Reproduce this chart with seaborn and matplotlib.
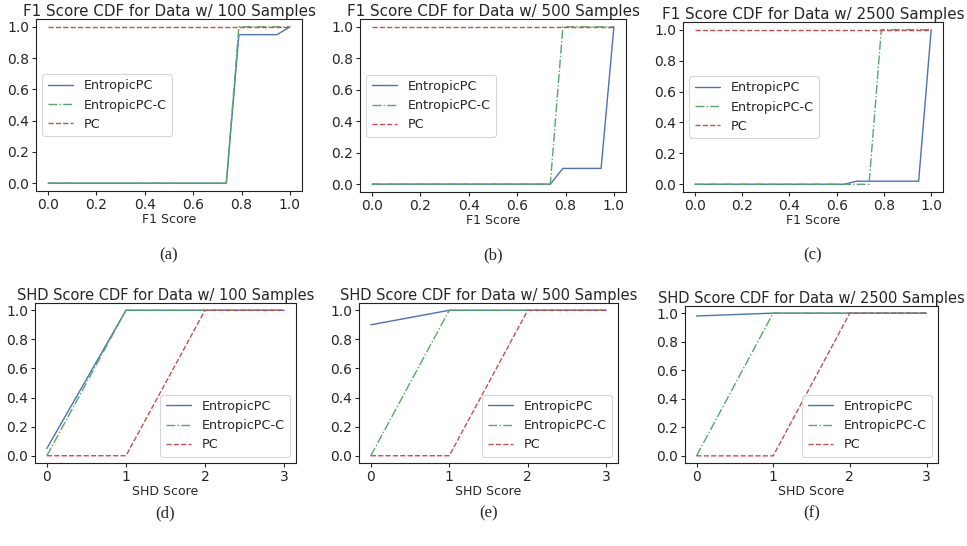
import matplotlib
matplotlib.use("Agg")
import matplotlib.pyplot as plt
import seaborn as sns

# --- data ---
labels = ["EntropicPC", "EntropicPC-C", "PC"]

f1_x = [0.0, 0.632, 0.684, 0.737, 0.789, 0.947, 1.0]
f1_100 = {
    "EntropicPC":   [0.0, 0.0, 0.0, 0.0, 0.95, 0.95, 1.0],
    "EntropicPC-C": [0.0, 0.0, 0.0, 0.0, 1.0, 1.0, 1.0],
    "PC":           [1.0, 1.0, 1.0, 1.0, 1.0, 1.0, 1.0],
}
f1_500 = {
    "EntropicPC":   [0.0, 0.0, 0.0, 0.0, 0.1, 0.1, 1.0],
    "EntropicPC-C": [0.0, 0.0, 0.0, 0.0, 1.0, 1.0, 1.0],
    "PC":           [1.0, 1.0, 1.0, 1.0, 1.0, 1.0, 1.0],
}
f1_2500 = {
    "EntropicPC":   [0.0, 0.0, 0.02, 0.02, 0.02, 0.02, 1.0],
    "EntropicPC-C": [0.0, 0.0, 0.0, 0.0, 1.0, 1.0, 1.0],
    "PC":           [1.0, 1.0, 1.0, 1.0, 1.0, 1.0, 1.0],
}

shd_x = [0, 1, 2, 3]
shd_100 = {
    "EntropicPC":   [0.05, 1.0, 1.0, 1.0],
    "EntropicPC-C": [0.0, 1.0, 1.0, 1.0],
    "PC":           [0.0, 0.0, 1.0, 1.0],
}
shd_500 = {
    "EntropicPC":   [0.9, 1.0, 1.0, 1.0],
    "EntropicPC-C": [0.0, 1.0, 1.0, 1.0],
    "PC":           [0.0, 0.0, 1.0, 1.0],
}
shd_2500 = {
    "EntropicPC":   [0.98, 1.0, 1.0, 1.0],
    "EntropicPC-C": [0.0, 1.0, 1.0, 1.0],
    "PC":           [0.0, 0.0, 1.0, 1.0],
}

sample_sizes = [100, 500, 2500]
captions = ["(a)", "(b)", "(c)", "(d)", "(e)", "(f)"]

# --- style ---
sns.set_style("ticks")
palette = sns.color_palette("deep")
colors = {"EntropicPC": palette[0], "EntropicPC-C": palette[2], "PC": palette[3]}
styles = {"EntropicPC": "-", "EntropicPC-C": "-.", "PC": "--"}
plt.rcParams["font.family"] = ["DejaVu Sans"]

W, H = 967, 546
fig = plt.figure(figsize=(W / 100, H / 100), dpi=100)

# axes boxes in pixels: left, top, right, bottom
boxes = [
    (36, 19, 302, 191), (360, 19, 626, 192), (683, 22, 943, 192),
    (35, 303, 296, 463), (359, 303, 618, 463), (685, 306, 938, 463),
]
legend_locs = ["center left"] * 3 + ["lower right"] * 3
panels = [
    ("F1", f1_x, f1_100), ("F1", f1_x, f1_500), ("F1", f1_x, f1_2500),
    ("SHD", shd_x, shd_100), ("SHD", shd_x, shd_500), ("SHD", shd_x, shd_2500),
]

for i, ((kind, xs, series), box) in enumerate(zip(panels, boxes)):
    l, t, r, b = box
    ax = fig.add_axes([l / W, 1 - b / H, (r - l) / W, (b - t) / H])
    for name in labels:
        sns.lineplot(x=xs, y=series[name], ax=ax, color=colors[name],
                     linestyle=styles[name], linewidth=1.0, label=name)
    n = sample_sizes[i % 3]
    title_size = 10.9 if kind == "F1" else 10.5
    ax.set_title(f"{kind} Score CDF for Data w/ {n} Samples", fontsize=title_size, pad=2)
    ax.set_xlabel(f"{kind} Score", fontsize=9, labelpad=1)
    ax.set_ylabel("")
    ax.tick_params(labelsize=10, length=3, pad=2)
    ax.set_yticks([0.0, 0.2, 0.4, 0.6, 0.8, 1.0])
    if kind == "F1":
        ax.set_xticks([0.0, 0.2, 0.4, 0.6, 0.8, 1.0])
        ax.set_xlim(-0.05, 1.05)
    else:
        ax.set_xticks([0, 1, 2, 3])
        ax.set_xlim(-0.15, 3.15)
    ax.set_ylim(-0.05, 1.05)
    for sp in ax.spines.values():
        sp.set_visible(True)
        sp.set_linewidth(0.8)
        sp.set_color("#222222")
    leg = ax.legend(loc=legend_locs[i], fontsize=9.2, frameon=True)
    leg.get_frame().set_edgecolor("#cccccc")
    leg.get_frame().set_linewidth(0.8)
    # caption below panel
    cx = (l + r) / 2
    cy = 255 if i < 3 else 513
    fig.text(cx / W, 1 - cy / H, captions[i], ha="center", va="center",
             fontsize=12, family=["Liberation Serif"])

fig.savefig("out.png", dpi=100)
